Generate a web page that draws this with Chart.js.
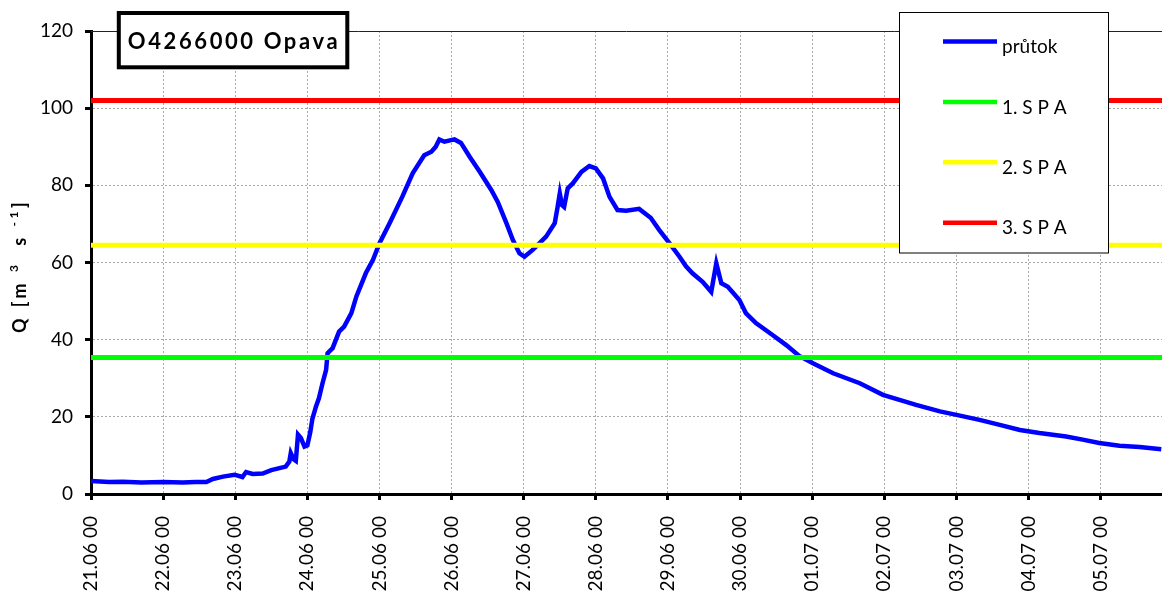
<!DOCTYPE html>
<html>
<head>
<meta charset="utf-8">
<script src="https://cdn.jsdelivr.net/npm/chart.js@4/dist/chart.umd.min.js"></script>
<style>
  html, body { margin: 0; padding: 0; background: #ffffff; }
  #wrap { position: relative; width: 1162px; height: 593px; }
</style>
</head>
<body>
<div id="wrap"><canvas id="c"></canvas></div>
<script>
// Tick labels for each day boundary (day 0 = 21.06 00:00)
const dayLabels = ['21.06 00', '22.06 00', '23.06 00', '24.06 00', '25.06 00',
  '26.06 00', '27.06 00', '28.06 00', '29.06 00', '30.06 00',
  '01.07 00', '02.07 00', '03.07 00', '04.07 00', '05.07 00'];

// Discharge: time in days since 21.06 00:00, value in m3/s
const flowDays = [0.00, 0.25, 0.44, 0.70, 1.00, 1.27, 1.45, 1.60, 1.69, 1.83,
  1.99, 2.10, 2.15, 2.24, 2.38, 2.50, 2.70, 2.75, 2.77, 2.81,
  2.84, 2.87, 2.91, 2.96, 3.00, 3.04, 3.07, 3.12, 3.16, 3.21,
  3.26, 3.28, 3.35, 3.44, 3.51, 3.61, 3.68, 3.81, 3.91, 4.00,
  4.14, 4.32, 4.46, 4.62, 4.72, 4.78, 4.83, 4.90, 5.04, 5.13,
  5.25, 5.39, 5.55, 5.64, 5.76, 5.85, 5.94, 6.01, 6.12, 6.17,
  6.31, 6.43, 6.47, 6.50, 6.53, 6.56, 6.61, 6.68, 6.80, 6.91,
  7.00, 7.10, 7.19, 7.30, 7.42, 7.60, 7.76, 7.88, 8.02, 8.16,
  8.25, 8.34, 8.48, 8.60, 8.67, 8.74, 8.83, 8.99, 9.08, 9.22,
  9.45, 9.64, 9.82, 10.01, 10.29, 10.66, 10.98, 11.21, 11.44, 11.77,
  12.00, 12.32, 12.60, 12.88, 13.15, 13.52, 13.75, 13.98, 14.26, 14.54,
  14.84];
const flowValues = [3.4, 3.1, 3.2, 3.0, 3.1, 3.0, 3.1, 3.1, 3.9, 4.5,
  5.0, 4.4, 5.7, 5.2, 5.3, 6.2, 7.1, 8.4, 10.6, 9.0,
  8.6, 15.4, 14.5, 12.3, 12.6, 16.0, 19.5, 22.7, 24.8, 28.7,
  32.2, 36.5, 37.8, 42.1, 43.4, 46.9, 51.2, 57.2, 60.7, 65.0,
  70.2, 77.2, 83.1, 87.8, 88.7, 90.0, 91.9, 91.3, 91.9, 91.0,
  87.4, 83.5, 78.8, 75.7, 70.2, 65.8, 62.4, 61.5, 63.2, 64.1,
  66.7, 70.2, 74.4, 77.9, 74.9, 74.4, 79.2, 80.5, 83.5, 85.0,
  84.4, 81.8, 77.0, 73.6, 73.4, 73.9, 71.6, 68.4, 65.0, 61.5,
  59.0, 57.2, 55.0, 52.4, 59.8, 54.6, 53.7, 50.3, 46.9, 44.3,
  41.2, 38.6, 35.8, 33.9, 31.3, 28.7, 25.7, 24.4, 23.1, 21.4,
  20.5, 19.2, 17.9, 16.6, 15.8, 14.9, 14.1, 13.2, 12.5, 12.2,
  11.6];

// Flood activity levels (stupně povodňové aktivity), m3/s
const spaLevels = [35.4, 64.5, 102];
const seriesNames = ['průtok', '1. S P A', '2. S P A', '3. S P A'];
const seriesColors = ['#0000ff', '#00ff00', '#ffff00', '#ff0000'];
const stationName = 'O4266000 Opava';
const xMax = 14.85;

const FONT = 'Lato, "Liberation Sans", Arial, sans-serif';

const flowPoints = flowDays.map((d, i) => ({ x: d, y: flowValues[i] }));
const levelLine = v => [{ x: 0, y: v }, { x: xMax, y: v }];

const datasets = [
  { label: seriesNames[0], data: flowPoints, borderColor: seriesColors[0], borderWidth: 4.5, order: 10 },
  { label: seriesNames[1], data: levelLine(spaLevels[0]), borderColor: seriesColors[1], borderWidth: 5, order: 3 },
  { label: seriesNames[2], data: levelLine(spaLevels[1]), borderColor: seriesColors[2], borderWidth: 5, order: 2 },
  { label: seriesNames[3], data: levelLine(spaLevels[2]), borderColor: seriesColors[3], borderWidth: 5, order: 1 }
];
datasets.forEach(d => { d.pointRadius = 0; d.tension = 0; d.fill = false; d.borderJoinStyle = 'miter'; });

// Extra decorations: plot top border, station box, legend box, y-axis title
const decorations = {
  id: 'decorations',
  afterDraw(chart) {
    const ctx = chart.ctx;
    const a = chart.chartArea;

    ctx.save();
    ctx.strokeStyle = '#222';
    ctx.lineWidth = 1;
    ctx.beginPath();
    ctx.moveTo(a.left, Math.round(a.top) + 0.5);
    ctx.lineTo(a.right, Math.round(a.top) + 0.5);
    ctx.stroke();

    // station box
    ctx.fillStyle = '#fff';
    ctx.fillRect(117, 11, 232, 58);
    ctx.strokeStyle = '#000';
    ctx.lineWidth = 4;
    ctx.strokeRect(118.8, 13, 228.5, 54.3);
    ctx.fillStyle = '#000';
    ctx.font = 'bold 22px ' + FONT;
    ctx.letterSpacing = '2.6px';
    ctx.textAlign = 'center';
    ctx.textBaseline = 'middle';
    ctx.fillText(stationName, 234, 42);
    ctx.letterSpacing = '0px';

    // legend box
    ctx.fillStyle = '#fff';
    ctx.fillRect(899.5, 12.5, 209, 240.5);
    ctx.strokeStyle = '#000';
    ctx.lineWidth = 1;
    ctx.strokeRect(899.5, 12.5, 209, 240.5);
    ctx.font = '19px ' + FONT;
    ctx.textAlign = 'left';
    ctx.textBaseline = 'middle';
    chart.data.datasets.forEach((ds, i) => {
      const y = 41.5 + i * 60.4;
      ctx.strokeStyle = ds.borderColor;
      ctx.lineWidth = 4.5;
      ctx.beginPath();
      ctx.moveTo(943, y);
      ctx.lineTo(997, y);
      ctx.stroke();
      ctx.fillStyle = '#000';
      ctx.fillText(ds.label, 1002, y + 5.5);
    });

    // y-axis title: Q [m³ s⁻¹]
    ctx.translate(20, 266);
    ctx.rotate(-Math.PI / 2);
    ctx.fillStyle = '#000';
    ctx.textBaseline = 'alphabetic';
    ctx.textAlign = 'left';
    ctx.letterSpacing = '3.5px';
    const big = 'bold 18px ' + FONT;
    const small = 'bold 12px ' + FONT;
    const parts = [
      { t: 'Q [m ', f: big, dy: 0 },
      { t: '3', f: small, dy: -8 },
      { t: '  s ', f: big, dy: 0 },
      { t: '-1', f: small, dy: -8 },
      { t: ']', f: big, dy: 0 }
    ];
    let total = 0;
    parts.forEach(p => { ctx.font = p.f; p.w = ctx.measureText(p.t).width; total += p.w; });
    let x = -total / 2;
    parts.forEach(p => { ctx.font = p.f; ctx.fillText(p.t, x, 6 + p.dy); x += p.w; });
    ctx.restore();
  }
};

new Chart(document.getElementById('c'), {
  type: 'line',
  data: { datasets },
  options: {
    responsive: true,
    maintainAspectRatio: false,
    animation: false,
    layout: { padding: { top: 31, right: 0, left: 0, bottom: 0 } },
    plugins: { legend: { display: false }, tooltip: { enabled: false } },
    scales: {
      x: {
        type: 'linear',
        min: 0,
        max: xMax,
        afterFit: s => { s.height = 99; },
        border: { display: true, color: '#000', width: 3, dash: [2, 2] },
        grid: {
          color: c => (c.tick && c.tick.value === 0) ? 'rgba(0,0,0,0)' : '#a8a8a8',
          lineWidth: 1,
          drawTicks: true,
          tickLength: 6,
          tickWidth: 3,
          tickColor: '#000',
          tickBorderDash: []
        },
        ticks: {
          stepSize: 1,
          includeBounds: false,
          autoSkip: false,
          maxRotation: 90,
          minRotation: 90,
          padding: 16,
          color: '#000',
          font: { family: FONT, size: 19 },
          callback: v => dayLabels[Math.round(v)] || ''
        }
      },
      y: {
        min: 0,
        max: 120,
        afterFit: s => { s.width = 91; },
        border: { display: true, color: '#000', width: 3, dash: [2, 2] },
        grid: {
          color: c => (c.tick && (c.tick.value === 120 || c.tick.value === 0)) ? 'rgba(0,0,0,0)' : '#a8a8a8',
          lineWidth: 1,
          drawTicks: true,
          tickLength: 6,
          tickWidth: 3,
          tickColor: '#000',
          tickBorderDash: []
        },
        ticks: {
          stepSize: 20,
          padding: 12,
          color: '#000',
          font: { family: FONT, size: 19 }
        }
      }
    }
  },
  plugins: [decorations]
});
</script>
</body>
</html>
